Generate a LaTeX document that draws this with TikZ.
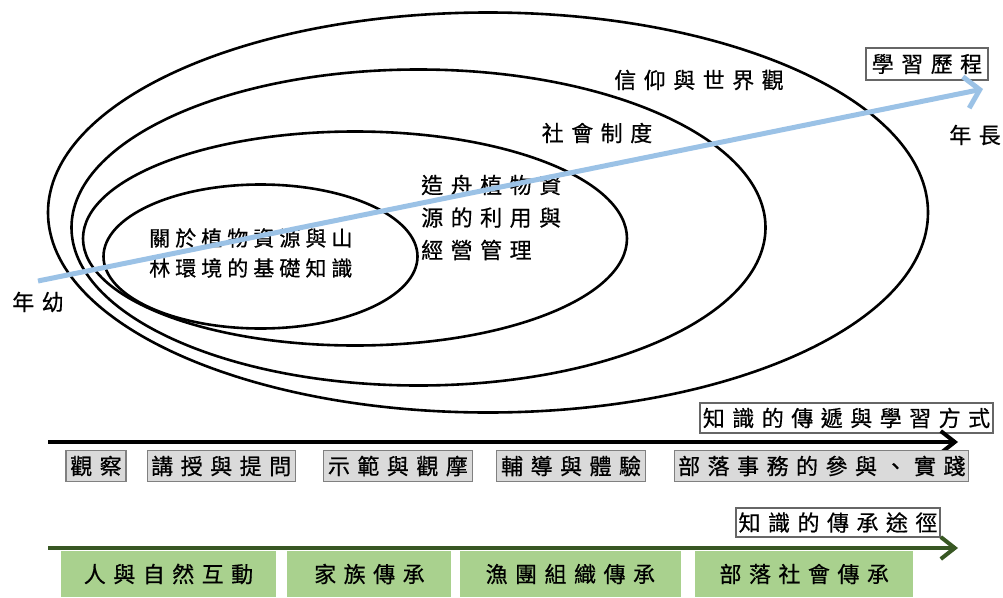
\documentclass[tikz,border=0pt]{standalone}
\usepackage{fontspec}
\newfontfamily\cjk[LetterSpace=34,FakeBold=0.6]{Noto Sans CJK TC}
\newfontfamily\cjktight[LetterSpace=24,FakeBold=0.6]{Noto Sans CJK TC}
\usepackage{tikz}
\usetikzlibrary{shapes,arrows.meta,positioning}
\usepackage{xcolor}
\definecolor{pathblue}{RGB}{155,194,230}
\definecolor{wayfill}{RGB}{169,209,142}
\definecolor{wayline}{RGB}{56,87,35}
\definecolor{modefill}{RGB}{218,218,218}

\begin{document}
\begin{tikzpicture}[x=1pt, y=-1pt, font=\cjk\fontsize{22}{31}\selectfont,
  ring/.style={line width=2.6pt},
  lbl/.style={inner sep=0pt},
  tagbox/.style={rectangle, draw=gray!80!black, fill=white, line width=1.2pt, minimum height=30pt, inner sep=0pt},
  modebox/.style={rectangle, draw=gray, fill=modefill, line width=1.2pt, minimum height=31pt, inner sep=0pt},
  waybox/.style={rectangle, fill=wayfill, minimum height=46pt, inner sep=0pt},
  flow/.style={line width=4pt, -{Straight Barb[length=14pt,width=22pt]}}]
  \useasboundingbox (0,0) rectangle (1003,597);
  \draw[ring] (488,212.5) ellipse [x radius=440pt, y radius=200pt];
  \draw[ring] (418.5,227.5) ellipse [x radius=347pt, y radius=158pt];
  \draw[ring] (355,238.5) ellipse [x radius=272pt, y radius=107pt];
  \draw[ring] (260.5,256.5) ellipse [x radius=157pt, y radius=72pt];
  \node[lbl] (faith) at (699,80) {信仰與世界觀};
  \node[lbl] (society) at (597,133) {社會制度};
  \node[lbl, anchor=west, align=left, font=\cjk\fontsize{22}{32.5}\selectfont] (canoe) at (421,217.5) {造舟植物資\\源的利用與\\經營管理};
  \node[lbl, anchor=west, align=left, font=\cjktight\fontsize{21}{30}\selectfont] (basics) at (149,253) {關於植物資源與山\\林環境的基礎知識};
  \node[lbl] (young) at (38,302) {年幼};
  \node[lbl] (old) at (975,135) {年長};
  \node[tagbox, minimum width=122pt, minimum height=32pt] (journey) at (927,64) {學習歷程};
  \coordinate (kid) at (38,281);
  \coordinate (elder) at (983,89);
  \draw[pathblue, line width=5pt, -{Straight Barb[length=14pt,width=32pt]}] (kid) -- (elder);
  \node[tagbox, minimum width=293pt] (learntag) at (846.5,418) {知識的傳遞與學習方式};
  \coordinate (learnL) at (48,442);
  \coordinate (learnR) at (958,442);
  \draw[flow] (learnL) -- (learnR);
  \node[modebox, minimum width=60pt] (m1) at (96,466) {觀察};
  \node[modebox, minimum width=148pt, right=20pt of m1] (m2) {講授與提問};
  \node[modebox, minimum width=149pt, right=27pt of m2] (m3) {示範與觀摩};
  \node[modebox, minimum width=149pt, right=23pt of m3] (m4) {輔導與體驗};
  \node[modebox, minimum width=294pt, right=28pt of m4] (m5) {部落事務的參與、實踐};
  \node[tagbox, minimum width=204pt, minimum height=29pt] (passtag) at (838,522.5) {知識的傳承途徑};
  \coordinate (passL) at (48,548);
  \coordinate (passR) at (958,548);
  \draw[flow, wayline] (passL) -- (passR);
  \node[waybox, minimum width=215pt] (w1) at (168.5,574) {人與自然互動};
  \node[waybox, minimum width=164pt, right=11pt of w1] (w2) {家族傳承};
  \node[waybox, minimum width=221pt, right=8pt of w2] (w3) {漁團組織傳承};
  \node[waybox, minimum width=218pt, right=14pt of w3] (w4) {部落社會傳承};
\end{tikzpicture}
\end{document}
